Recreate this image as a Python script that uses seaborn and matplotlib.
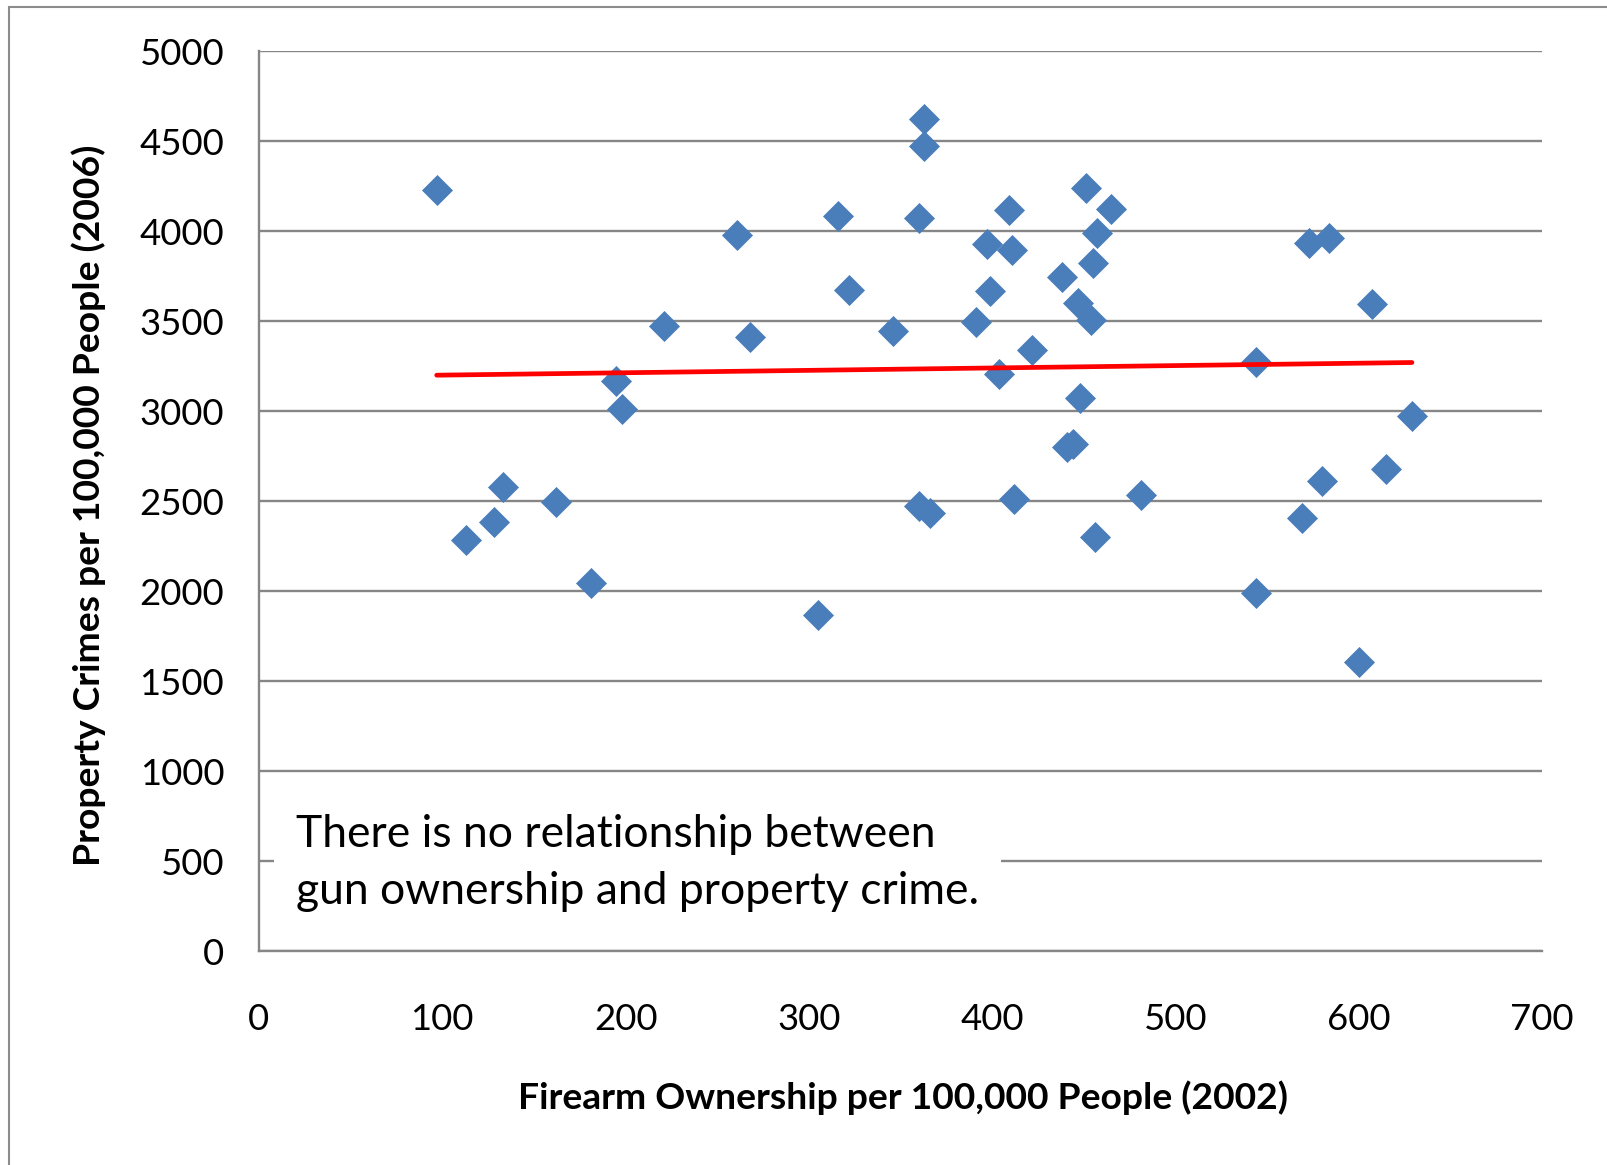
import numpy as np
import pandas as pd
import matplotlib.pyplot as plt
from matplotlib.patches import Rectangle
import seaborn as sns

# firearm ownership (2002) vs property crimes (2006), per 100,000 people
guns = [97, 113, 128, 133, 162, 181, 195, 198, 221, 261, 268, 305, 316, 322, 346,
        360, 360, 363, 363, 366, 391, 397, 399, 404, 409, 411, 412, 422, 438, 441,
        444, 447, 448, 451, 454, 455, 456, 457, 465, 481, 544, 544, 569, 573, 580,
        584, 600, 607, 615, 629]
crimes = [4227, 2287, 2383, 2580, 2495, 2046, 3166, 3012, 3475, 3981, 3410, 1868, 4084, 3673, 3445,
          4076, 2473, 4625, 4476, 2435, 3496, 3931, 3667, 3208, 4117, 3894, 2510, 3338, 3745, 2802,
          2817, 3602, 3075, 4238, 3505, 3821, 2300, 3989, 4124, 2536, 3272, 1989, 2408, 3933, 2612,
          3963, 1608, 3598, 2679, 2973]
x_ticks = list(range(0, 701, 100))
y_ticks = list(range(0, 5001, 500))
note = 'There is no relationship between\ngun ownership and property crime.'

df = pd.DataFrame({'guns': guns, 'crimes': crimes})

sns.set_style('white')
plt.rcParams['font.family'] = ['Lato', 'DejaVu Sans']
plt.rcParams['text.color'] = 'black'
plt.rcParams['axes.labelcolor'] = 'black'

fig = plt.figure(figsize=(16.08, 11.65), dpi=100)
ax = fig.add_axes([0.161, 0.1835, 0.798, 0.7725])

sns.regplot(data=df, x='guns', y='crimes', ax=ax, ci=None, marker='D',
            scatter_kws={'s': 250, 'color': '#4A7EBB', 'linewidths': 0, 'alpha': 1},
            line_kws={'color': '#FF0000', 'lw': 3.4, 'solid_capstyle': 'round'})

ax.set_xlim(0, 700)
ax.set_ylim(0, 5000)
ax.set_xticks(x_ticks)
ax.set_yticks(y_ticks)
ax.yaxis.grid(True, color='#868686', lw=1.7)
ax.set_axisbelow(True)
for s in ['top', 'right']:
    ax.spines[s].set_visible(False)
for s in ['left', 'bottom']:
    ax.spines[s].set_color('#868686')
    ax.spines[s].set_linewidth(1.7)
ax.tick_params(axis='both', direction='out', color='#868686', width=1.7, length=8,
               labelsize=26.3, labelcolor='black')
ax.tick_params(axis='x', pad=29)
ax.tick_params(axis='y', pad=17)

ax.set_xlabel('Firearm Ownership per 100,000 People (2002)', fontsize=26.8, fontweight='bold')
ax.set_ylabel('Property Crimes per 100,000 People (2006)', fontsize=26.8, fontweight='bold')
ax.xaxis.set_label_coords(0.502, -0.163)
ax.xaxis.label.set_va('center')
ax.yaxis.set_label_coords(-0.1325, 0.496)
ax.yaxis.label.set_va('center')
ax.yaxis.label.set_ha('center')

ax.text(0.029, 0.153, note, transform=ax.transAxes, fontsize=32, va='top', ha='left',
        linespacing=1.5, zorder=5,
        bbox=dict(facecolor='white', edgecolor='none', pad=16))

# outer chart border
fig.patches.append(Rectangle((9 / 1608, -0.1), 1.2, 1.1 - 7 / 1165, transform=fig.transFigure,
                             fill=False, edgecolor='#8c8c8c', lw=1.5))

fig.savefig('out.png', dpi=100)
